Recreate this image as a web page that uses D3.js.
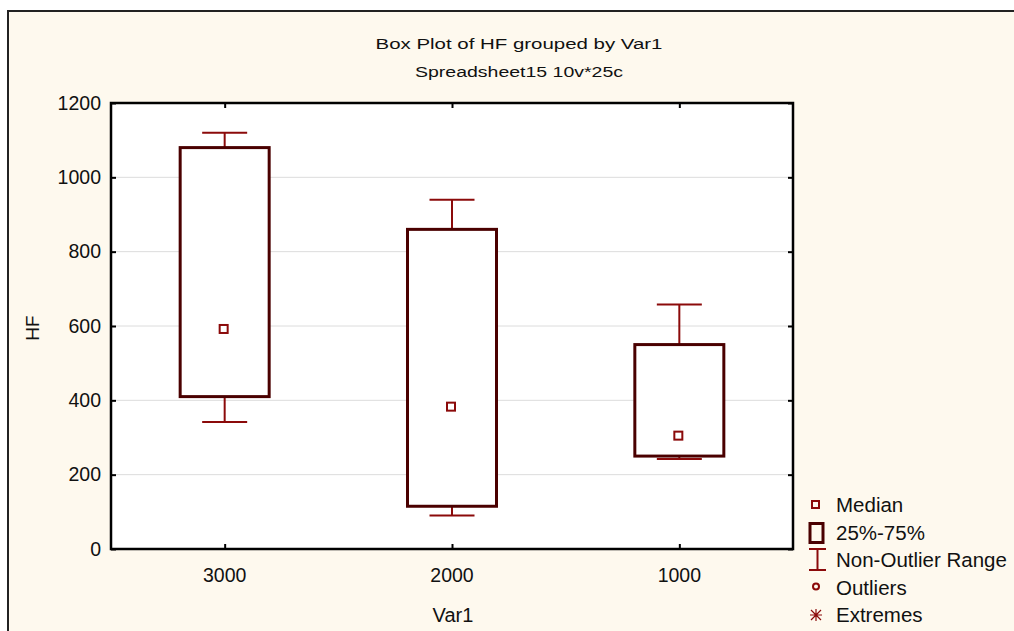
<!DOCTYPE html>
<html><head><meta charset="utf-8">
<script src="https://cdn.jsdelivr.net/npm/d3@7"></script>
<style>body{margin:0;background:#fff;} svg{display:block;font-family:"Liberation Sans",Arial,sans-serif;}</style>
</head><body>
<svg id="c" width="1014" height="631"></svg>
<script>
const categories = ["3000","2000","1000"];
const q1 = [410, 115, 250];
const q3 = [1080, 860, 550];
const medians = [592, 383, 305];
const whiskerLow = [342, 90, 242];
const whiskerHigh = [1120, 940, 658];
const yTicks = [0,200,400,600,800,1000,1200];
const legendLabels = ["Median","25%-75%","Non-Outlier Range","Outliers","Extremes"];

const svg = d3.select("#c");
const boxCol = "#4a0000", whiskCol = "#8b0a0a";
// outer frame
svg.append("rect").attr("x",8).attr("y",11).attr("width",1020).attr("height",640)
  .attr("fill","#fef9ee").attr("stroke","#222").attr("stroke-width",2);

const L=111, R=793, T=103, B=549;
const x = d3.scalePoint().domain(categories).range([L,R]).padding(0.5);
const y = d3.scaleLinear().domain([0,1200]).range([B,T]);

svg.append("rect").attr("x",L).attr("y",T).attr("width",R-L).attr("height",B-T).attr("fill","#fff");
// gridlines
svg.append("g").selectAll("line").data(yTicks.filter(d=>d>0&&d<1200)).join("line")
  .attr("x1",L).attr("x2",R).attr("y1",d=>y(d)).attr("y2",d=>y(d)).attr("stroke","#dcdcdc").attr("stroke-width",1);

// axes
const yAx = svg.append("g").attr("transform",`translate(${L},0)`)
  .call(d3.axisRight(y).tickValues(yTicks).tickSize(5).tickFormat(""));
const yAxR = svg.append("g").attr("transform",`translate(${R},0)`)
  .call(d3.axisLeft(y).tickValues(yTicks).tickSize(5).tickFormat(""));
const xAx = svg.append("g").attr("transform",`translate(0,${B})`)
  .call(d3.axisTop(x).tickSize(5).tickFormat(""));
const xAxT = svg.append("g").attr("transform",`translate(0,${T})`)
  .call(d3.axisBottom(x).tickSize(5).tickFormat(""));
[yAx,yAxR,xAx,xAxT].forEach(g=>{g.select(".domain").remove();g.selectAll("line").attr("stroke","#000").attr("stroke-width",2);});

// tick labels
svg.append("g").selectAll("text").data(yTicks).join("text")
  .attr("x",L-10).attr("y",d=>y(d)).attr("dy","0.35em").attr("text-anchor","end")
  .attr("font-size",19.5).attr("fill","#111").text(d=>d);
svg.append("g").selectAll("text").data(categories).join("text")
  .attr("x",d=>x(d)).attr("y",B+33).attr("text-anchor","middle")
  .attr("font-size",19.5).attr("fill","#111").text(d=>d);

// plot frame
svg.append("rect").attr("x",L).attr("y",T).attr("width",R-L).attr("height",B-T)
  .attr("fill","none").attr("stroke","#000").attr("stroke-width",2.5);

// boxes
const bw = 89, cap = 45;
const g = svg.append("g");
categories.forEach((c,i)=>{
  const cx = x(c);
  g.append("line").attr("x1",cx).attr("x2",cx).attr("y1",y(whiskerHigh[i])).attr("y2",y(q3[i])).attr("stroke",whiskCol).attr("stroke-width",2);
  g.append("line").attr("x1",cx).attr("x2",cx).attr("y1",y(whiskerLow[i])).attr("y2",y(q1[i])).attr("stroke",whiskCol).attr("stroke-width",2);
  g.append("line").attr("x1",cx-cap/2).attr("x2",cx+cap/2).attr("y1",y(whiskerHigh[i])).attr("y2",y(whiskerHigh[i])).attr("stroke",whiskCol).attr("stroke-width",2);
  g.append("line").attr("x1",cx-cap/2).attr("x2",cx+cap/2).attr("y1",y(whiskerLow[i])).attr("y2",y(whiskerLow[i])).attr("stroke",whiskCol).attr("stroke-width",2);
  g.append("rect").attr("x",cx-bw/2).attr("y",y(q3[i])).attr("width",bw).attr("height",y(q1[i])-y(q3[i]))
    .attr("fill","#fff").attr("stroke",boxCol).attr("stroke-width",3);
  g.append("rect").attr("x",cx-4-1).attr("y",y(medians[i])-4).attr("width",8).attr("height",8)
    .attr("fill","#fff").attr("stroke",whiskCol).attr("stroke-width",2);
});

// titles
svg.append("text").attr("x",519).attr("y",49).attr("text-anchor","middle").attr("font-size",15.5)
  .attr("fill","#111").attr("textLength",287).attr("lengthAdjust","spacingAndGlyphs").text("Box Plot of HF grouped by  Var1");
svg.append("text").attr("x",519).attr("y",77).attr("text-anchor","middle").attr("font-size",15.5)
  .attr("fill","#111").attr("textLength",208).attr("lengthAdjust","spacingAndGlyphs").text("Spreadsheet15 10v*25c");
svg.append("text").attr("transform","translate(39,328) rotate(-90)").attr("text-anchor","middle")
  .attr("font-size",19).attr("fill","#111").text("HF");
svg.append("text").attr("x",453).attr("y",622).attr("text-anchor","middle")
  .attr("font-size",20).attr("fill","#111").text("Var1");

// legend
const lg = svg.append("g");
const ly = d3.scalePoint().domain(legendLabels).range([505,615]);
lg.selectAll("text").data(legendLabels).join("text")
  .attr("x",836).attr("y",d=>ly(d)).attr("dy","0.36em").attr("font-size",20.5).attr("fill","#111").text(d=>d);
// icons
lg.append("rect").attr("x",812).attr("y",ly("Median")-4).attr("width",7).attr("height",7).attr("fill","none").attr("stroke",whiskCol).attr("stroke-width",2);
lg.append("rect").attr("x",810).attr("y",ly("25%-75%")-9).attr("width",13).attr("height",19).attr("fill","none").attr("stroke",boxCol).attr("stroke-width",3);
const nr = ly("Non-Outlier Range");
lg.append("line").attr("x1",809).attr("x2",826).attr("y1",nr-11).attr("y2",nr-11).attr("stroke",whiskCol).attr("stroke-width",2);
lg.append("line").attr("x1",809).attr("x2",826).attr("y1",nr+10).attr("y2",nr+10).attr("stroke",whiskCol).attr("stroke-width",2);
lg.append("line").attr("x1",817.5).attr("x2",817.5).attr("y1",nr-11).attr("y2",nr+10).attr("stroke",whiskCol).attr("stroke-width",2);
lg.append("circle").attr("cx",816).attr("cy",ly("Outliers")-1).attr("r",3).attr("fill","none").attr("stroke",whiskCol).attr("stroke-width",2);
const ex = ly("Extremes");
lg.append("path").attr("d",`M811,${ex-5}L821,${ex+5}M821,${ex-5}L811,${ex+5}M816,${ex-6}L816,${ex+6}M810,${ex}L822,${ex}`)
  .attr("stroke",whiskCol).attr("stroke-width",1.2).attr("fill","none");
</script>
</body></html>
